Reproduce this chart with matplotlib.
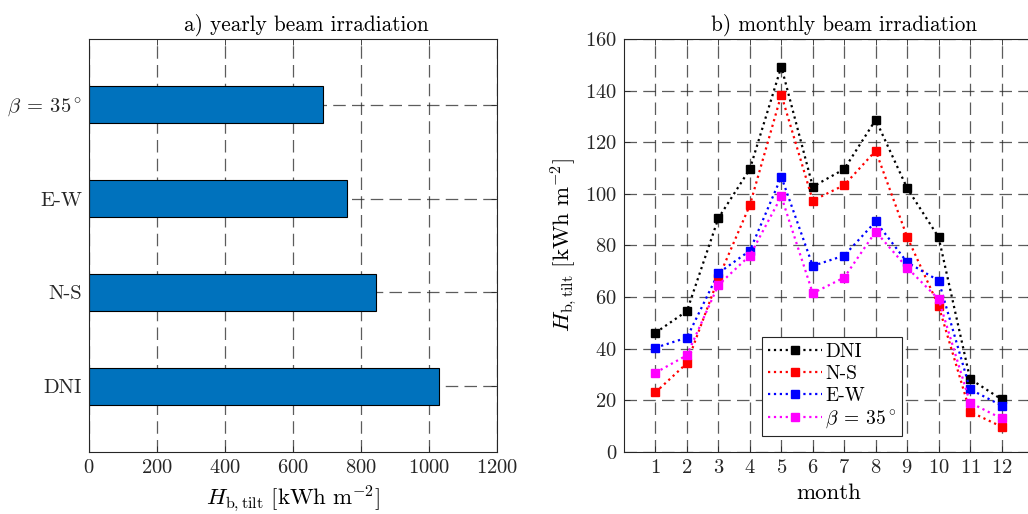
import matplotlib
matplotlib.use('Agg')
import matplotlib.pyplot as plt
import numpy as np

plt.rcParams['font.family'] = 'cmr10'
plt.rcParams['mathtext.fontset'] = 'cm'
plt.rcParams['axes.formatter.use_mathtext'] = True
plt.rcParams['axes.unicode_minus'] = False

# yearly totals
cases = ['DNI', 'N-S', 'E-W', r'$\beta\:=\:35^\circ$']
yearly = [1028, 845, 760, 687]

# monthly totals
months = np.arange(1, 13)
dni = [46.2, 54.6, 90.6, 109.6, 149.3, 102.8, 109.6, 128.7, 102.2, 83.2, 28.3, 20.4]
ns = [23.1, 34.4, 67.3, 95.6, 138.4, 97.4, 103.4, 116.7, 83.3, 56.6, 15.6, 9.8]
ew = [40.4, 44.3, 69.3, 78.0, 106.6, 72.1, 76.1, 89.3, 73.5, 66.4, 24.3, 18.0]
b35 = [30.7, 37.5, 64.7, 76.1, 99.0, 61.5, 67.6, 85.4, 71.4, 59.2, 19.1, 13.0]
series = [dni, ns, ew, b35]
labels = ['DNI', 'N-S', 'E-W', r'$\beta\:=\:35^\circ$']
colors = ['black', 'red', 'blue', 'magenta']

W, H = 1028, 514
fig = plt.figure(figsize=(W / 100, H / 100), dpi=100)
ax1 = fig.add_axes([89 / W, 1 - 452 / H, 408 / W, 413 / H])
ax2 = fig.add_axes([624 / W, 1 - 452 / H, 409 / W, 413 / H])

grid_kw = dict(color='#262626', alpha=0.75, linewidth=0.9, linestyle=(0, (10, 5)))

def style(ax):
    ax.set_axisbelow(True)
    ax.grid(True, **grid_kw)
    for s in ax.spines.values():
        s.set_color('#262626')
        s.set_linewidth(0.8)
    ax.tick_params(direction='in', length=4, width=0.6, color='#262626',
                   labelsize=14.8, top=True, right=True, labelcolor='#262626', pad=5)

# a) yearly
ypos = np.arange(1, len(cases) + 1)
ax1.barh(ypos, yearly, height=0.4, color='#0072BD', edgecolor='black', linewidth=0.8)
ax1.set_yticks(ypos)
ax1.set_yticklabels(cases)
ax1.set_xlim(0, 1200)
ax1.set_xticks(np.arange(0, 1201, 200))
ax1.set_ylim(0.3, 4.7)
style(ax1)
ax1.set_xlabel(r'$H_{\rm b,tilt}\ [\rm kWh\ m^{-2}]$', fontsize=16.5, labelpad=5)
ax1.set_title('a) yearly beam irradiation', fontsize=15.3, x=0.5 + 13 / 408, pad=6)

# b) monthly
for vals, lab, c in zip(series, labels, colors):
    ax2.plot(months, vals, linestyle=':', linewidth=1.6, color=c, marker='s',
             markersize=6, markerfacecolor=c, markeredgecolor=c, label=lab)
ax2.set_xlim(0, 13)
ax2.set_ylim(0, 160)
ax2.set_xticks(months)
ax2.set_yticks(np.arange(0, 161, 20))
style(ax2)
ax2.set_xlabel('month', fontsize=16.5, labelpad=5)
ax2.set_ylabel(r'$H_{\rm b,tilt}\ [\rm kWh\ m^{-2}]$', fontsize=16.5, labelpad=4)
ax2.set_title('b) monthly beam irradiation', fontsize=15.3, x=(844 - 624) / 409, pad=6)
leg = ax2.legend(loc='upper left', bbox_to_anchor=(0.337, 0.278), fontsize=14,
                 handlelength=2.8, fancybox=False, framealpha=1, edgecolor='#262626',
                 borderpad=0.3, labelspacing=0.2, handletextpad=0.15, borderaxespad=0)
leg.get_frame().set_linewidth(0.8)

fig.savefig('out.png', dpi=100)
